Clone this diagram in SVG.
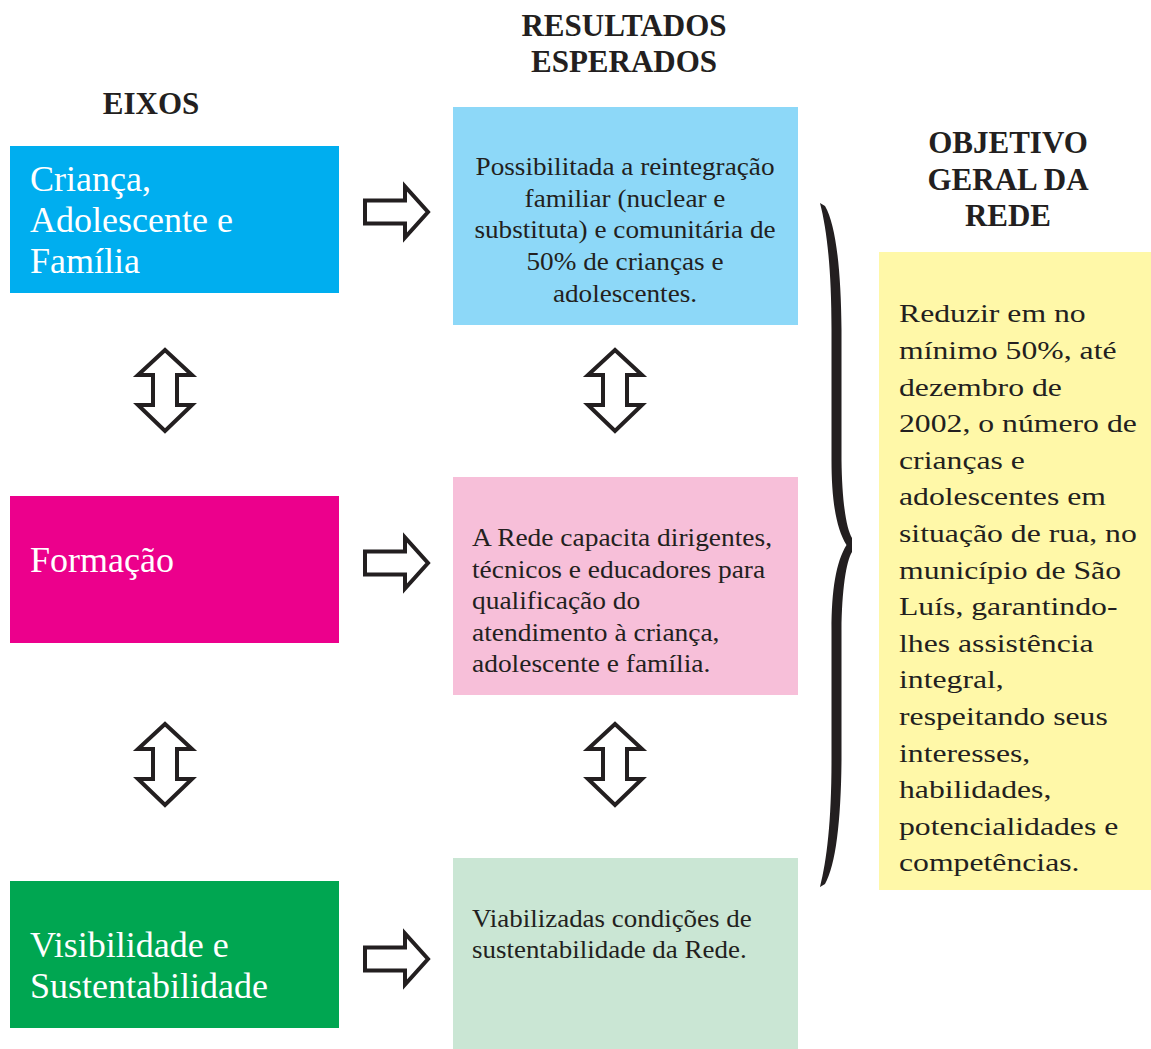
<svg xmlns="http://www.w3.org/2000/svg" width="1151" height="1049" viewBox="0 0 1151 1049">
<style>
.hd{font-family:"Liberation Serif","Times New Roman",serif;font-weight:bold;font-size:31px;fill:#231F20;text-anchor:middle}
.wt{font-family:"Liberation Serif","Times New Roman",serif;font-size:36px;fill:#FFFFFF}
.bt{font-family:"Liberation Serif","Times New Roman",serif;font-size:24.5px;fill:#231F20}
.yt{font-family:"Liberation Serif","Times New Roman",serif;font-size:26px;fill:#231F20}
.arr{fill:#FFFFFF;stroke:#231F20;stroke-width:4;stroke-linejoin:miter;stroke-miterlimit:10}
</style>
<defs>
<path id="ra" d="M365,-11.5 L405,-11.5 L405,-25.5 L428,0 L405,25.5 L405,11.5 L365,11.5 Z"/>
<path id="da" d="M0,2 L27,27 L12,27 L12,57 L27,57 L0,83 L-27,57 L-12,57 L-12,27 L-27,27 Z"/>
</defs>
<rect width="1151" height="1049" fill="#FFFFFF"/>

<g id="headers">
<text class="hd" x="151" y="114">EIXOS</text>
<text class="hd" x="624" y="36">RESULTADOS</text>
<text class="hd" x="624" y="72">ESPERADOS</text>
<text class="hd" x="1008" y="153">OBJETIVO</text>
<text class="hd" x="1008" y="190">GERAL DA</text>
<text class="hd" x="1008" y="226">REDE</text>
</g>

<g id="eixo-crianca">
<rect x="10" y="146" width="329" height="147" fill="#00AEEF"/>
<text class="wt" x="30" y="191">Criança,</text>
<text class="wt" x="30" y="232">Adolescente e</text>
<text class="wt" x="30" y="273">Família</text>
</g>

<g id="eixo-formacao">
<rect x="10" y="496" width="329" height="147" fill="#EC008C"/>
<text class="wt" x="30" y="572">Formação</text>
</g>

<g id="eixo-visibilidade">
<rect x="10" y="881" width="329" height="147" fill="#00A651"/>
<text class="wt" x="30" y="957">Visibilidade e</text>
<text class="wt" x="30" y="998">Sustentabilidade</text>
</g>

<g id="resultado-reintegracao">
<rect x="453" y="107" width="345" height="218" fill="#8DD8F8"/>
<g transform="translate(625,0) scale(1.11,1)" text-anchor="middle">
<text class="bt" x="0" y="175">Possibilitada a reintegração</text>
<text class="bt" x="0" y="206.7">familiar (nuclear e</text>
<text class="bt" x="0" y="238.3">substituta) e comunitária de</text>
<text class="bt" x="0" y="270">50% de crianças e</text>
<text class="bt" x="0" y="301.7">adolescentes.</text>
</g>
</g>

<g id="resultado-capacitacao">
<rect x="453" y="477" width="345" height="218" fill="#F7BFD9"/>
<g transform="translate(472,0) scale(1.12,1)">
<text class="bt" x="0" y="546.5">A Rede capacita dirigentes,</text>
<text class="bt" x="0" y="578">técnicos e educadores para</text>
<text class="bt" x="0" y="609.5">qualificação do</text>
<text class="bt" x="0" y="641">atendimento à criança,</text>
<text class="bt" x="0" y="672.5">adolescente e família.</text>
</g>
</g>

<g id="resultado-sustentabilidade">
<rect x="453" y="858" width="345" height="191" fill="#CAE6D4"/>
<g transform="translate(472,0) scale(1.1,1)">
<text class="bt" x="0" y="926.7">Viabilizadas condições de</text>
<text class="bt" x="0" y="958.3">sustentabilidade da Rede.</text>
</g>
</g>

<g id="objetivo-geral">
<rect x="879" y="252" width="272" height="638" fill="#FFF8A8"/>
<g transform="translate(899,0) scale(1.22,1)">
<text class="yt" x="0" y="322.5">Reduzir em no</text>
<text class="yt" x="0" y="359.1">mínimo 50%, até</text>
<text class="yt" x="0" y="395.7">dezembro de</text>
<text class="yt" x="0" y="432.3">2002, o número de</text>
<text class="yt" x="0" y="468.9">crianças e</text>
<text class="yt" x="0" y="505.5">adolescentes em</text>
<text class="yt" x="0" y="542.1">situação de rua, no</text>
<text class="yt" x="0" y="578.7">município de São</text>
<text class="yt" x="0" y="615.3">Luís, garantindo-</text>
<text class="yt" x="0" y="651.9">lhes assistência</text>
<text class="yt" x="0" y="688.5">integral,</text>
<text class="yt" x="0" y="725.1">respeitando seus</text>
<text class="yt" x="0" y="761.7">interesses,</text>
<text class="yt" x="0" y="798.3">habilidades,</text>
<text class="yt" x="0" y="834.9">potencialidades e</text>
<text class="yt" x="0" y="871.5">competências.</text>
</g>
</g>

<g id="connectors">
<use href="#ra" class="arr" transform="translate(0,212)"/>
<use href="#ra" class="arr" transform="translate(0,563)"/>
<use href="#ra" class="arr" transform="translate(0,959)"/>
<use href="#da" class="arr" transform="translate(165,348)"/>
<use href="#da" class="arr" transform="translate(165,722)"/>
<use href="#da" class="arr" transform="translate(615,348)"/>
<use href="#da" class="arr" transform="translate(615,722)"/>
<path id="brace" fill="#231F20" d="M820,203 L825,206 C836,225 841,270 841.5,330 L841.5,460 C842,500 846,528 852,538 L852,552 C846,562 842,590 841.5,630 L841.5,760 C841,820 836,865 825,884 L820,887 C827,860 831.5,820 831.5,760 L831.5,630 C831.5,590 836,562 846.5,545 C836,528 831.5,500 831.5,460 L831.5,330 C831.5,270 827,230 820,203 Z"/>
</g>
</svg>
